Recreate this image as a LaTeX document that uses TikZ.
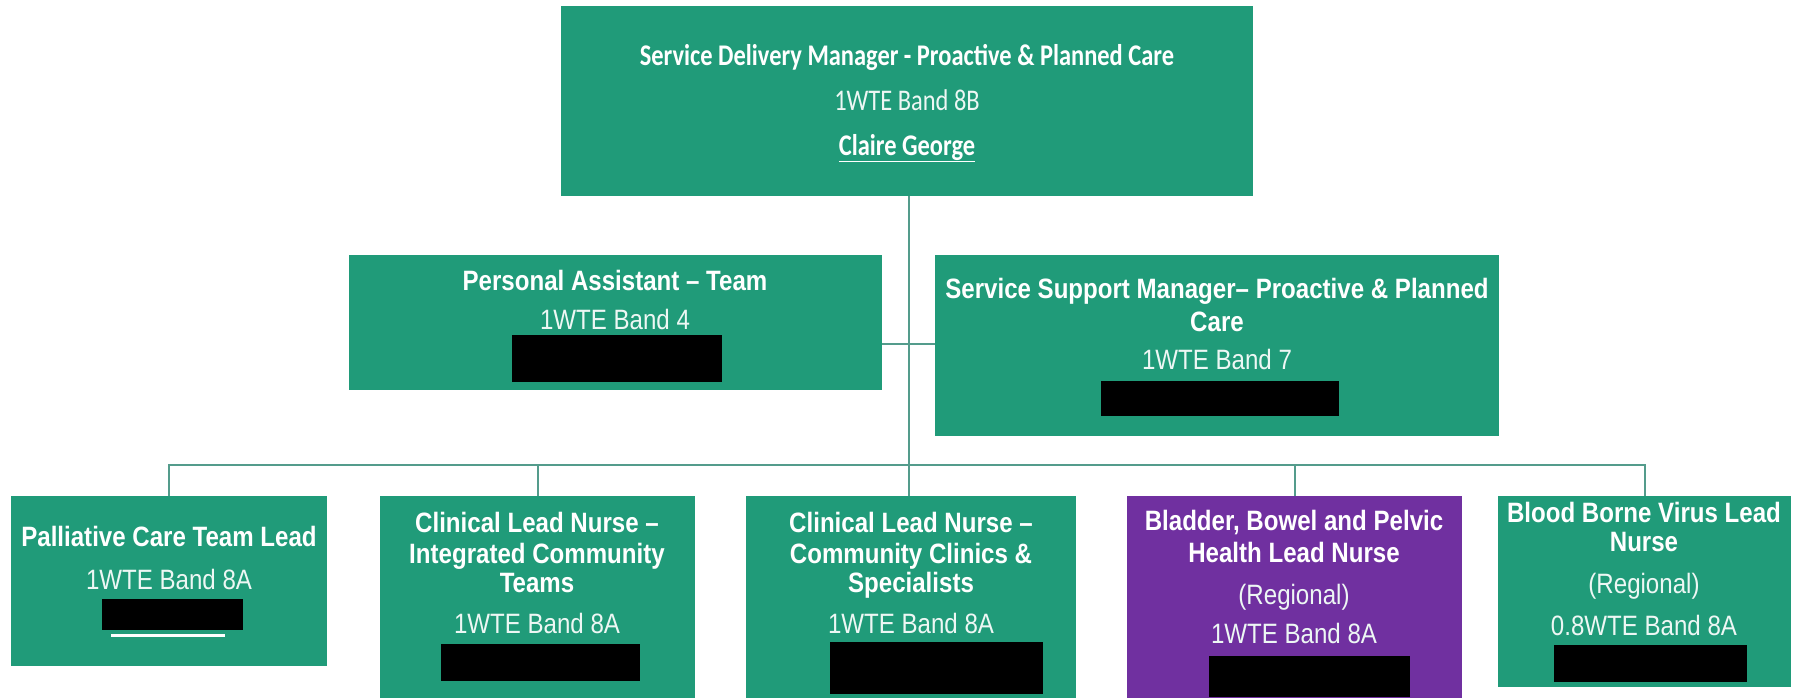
\documentclass[tikz,border=0pt]{standalone}
\usepackage{fontspec}
\newfontfamily\calib{Carlito}[FakeStretch=0.815]
\newfontfamily\arn{Liberation Sans}[FakeStretch=0.86]
\definecolor{boxgreen}{RGB}{32,155,121}
\definecolor{boxpurple}{RGB}{112,48,160}
\definecolor{linecol}{RGB}{84,156,140}
\tikzset{
  box/.style={rectangle, fill=boxgreen, draw=none, inner sep=0pt, anchor=north west},
  pbox/.style={box, fill=boxpurple},
  redact/.style={rectangle, fill=black, draw=none, inner sep=0pt, anchor=north west},
  conn/.style={draw=linecol, line width=1.8pt},
  ttl/.style={text=white, anchor=base, inner sep=0pt, font=\arn\bfseries\fontsize{28}{32}\selectfont},
  sub/.style={text=white!92!boxgreen, anchor=base, inner sep=0pt, font=\arn\fontsize{28}{32}\selectfont},
  cttl/.style={text=white, anchor=base, inner sep=0pt, font=\calib\bfseries\fontsize{30}{34}\selectfont},
  csub/.style={text=white!92!boxgreen, anchor=base, inner sep=0pt, font=\calib\fontsize{30}{34}\selectfont},
}
\begin{document}
\begin{tikzpicture}[x=1pt,y=-1pt]
\useasboundingbox[fill=white] (0,0) rectangle (1800,697);
% boxes
\node[box, minimum width=692pt, minimum height=190pt] (top) at (561,6) {};
\node[box, minimum width=533pt, minimum height=135pt] (pa) at (349,255) {};
\node[box, minimum width=564pt, minimum height=181pt] (ssm) at (935,255) {};
\node[box, minimum width=316pt, minimum height=170pt] (b1) at (11,496) {};
\node[box, minimum width=315pt, minimum height=205pt] (b2) at (380,496) {};
\node[box, minimum width=330pt, minimum height=205pt] (b3) at (746,496) {};
\node[pbox, minimum width=335pt, minimum height=205pt] (b4) at (1127,496) {};
\node[box, minimum width=293pt, minimum height=191pt] (b5) at (1498,496) {};
% connectors
\coordinate (jbus) at (909,465);
\coordinate (jmid) at (909,344);
\draw[conn] (top.south -| jbus) -- (jbus);
\draw[conn] (pa.east |- jmid) -- (jmid) -- (ssm.west |- jmid);
\draw[conn] (b1.north) |- (jbus) -| (b5.north);
\draw[conn] (b2.north) -- (b2.north |- jbus);
\draw[conn] (b3.north -| jbus) -- (jbus);
\draw[conn] (b4.north) -- (b4.north |- jbus);
% top box text
\node[cttl] (t1) at (907,65) {Service Delivery Manager - Proactive \& Planned Care};
\node[csub] (t2) at (907,110) {1WTE Band 8B};
\node[cttl] (t3) at (907,155) {\underline{Claire George}};
% PA
\node[ttl] (pa1) at (615,290) {Personal Assistant – Team};
\node[sub] (pa2) at (615,329) {1WTE Band 4};
\node[redact, minimum width=210pt, minimum height=47pt] (par) at (512,335) {};
% SSM
\node[ttl] (s1) at (1217,298) {Service Support Manager– Proactive \& Planned};
\node[ttl] (s2) at (1217,331) {Care};
\node[sub] (s3) at (1217,369) {1WTE Band 7};
\node[redact, minimum width=238pt, minimum height=35pt] (sr) at (1101,381) {};
% box 1
\node[ttl] (a1) at (169,546) {Palliative Care Team Lead};
\node[sub] (a2) at (169,589) {1WTE Band 8A};
\node[redact, minimum width=141pt, minimum height=31pt] (ar) at (102,599) {};
\node[redact, fill=white, minimum width=114pt, minimum height=3pt] (aw) at (111,634) {};
% box 2
\node[ttl] (c1) at (537,532) {Clinical Lead Nurse –};
\node[ttl] (c2) at (537,563) {Integrated Community};
\node[ttl] (c3) at (537,592) {Teams};
\node[sub] (c4) at (537,633) {1WTE Band 8A};
\node[redact, minimum width=199pt, minimum height=37pt] (cr) at (441,644) {};
% box 3
\node[ttl] (d1) at (911,532) {Clinical Lead Nurse –};
\node[ttl] (d2) at (911,563) {Community Clinics \&};
\node[ttl] (d3) at (911,592) {Specialists};
\node[sub] (d4) at (911,633) {1WTE Band 8A};
\node[redact, minimum width=213pt, minimum height=52pt] (dr) at (830,642) {};
% box 4
\node[ttl] (e1) at (1294,530) {Bladder, Bowel and Pelvic};
\node[ttl] (e2) at (1294,562) {Health Lead Nurse};
\node[sub] (e3) at (1294,604) {(Regional)};
\node[sub] (e4) at (1294,643) {1WTE Band 8A};
\node[redact, minimum width=201pt, minimum height=41pt] (er) at (1209,656) {};
% box 5
\node[ttl] (f1) at (1644,522) {Blood Borne Virus Lead};
\node[ttl] (f2) at (1644,551) {Nurse};
\node[sub] (f3) at (1644,593) {(Regional)};
\node[sub] (f4) at (1644,635) {0.8WTE Band 8A};
\node[redact, minimum width=193pt, minimum height=37pt] (fr) at (1554,645) {};
\end{tikzpicture}
\end{document}
